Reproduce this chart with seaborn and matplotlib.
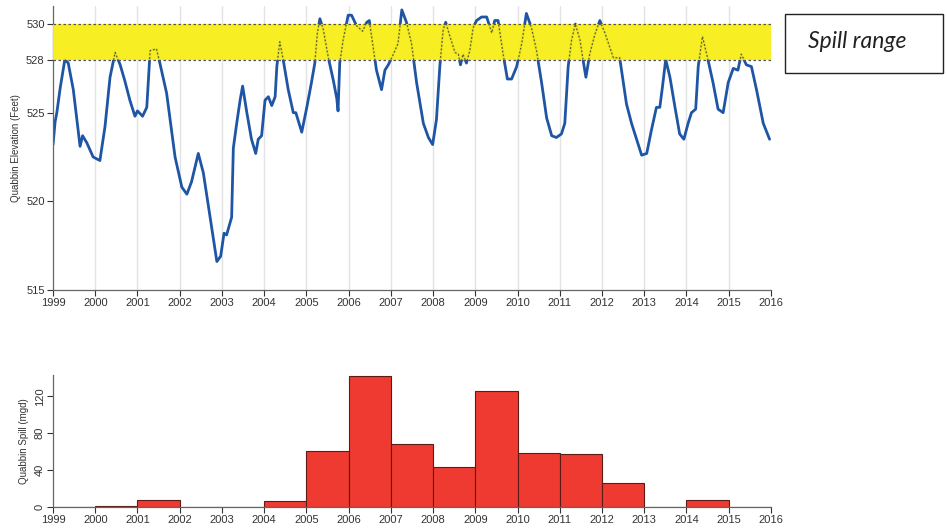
import numpy as np
import pandas as pd
import matplotlib
matplotlib.use("Agg")
import matplotlib.pyplot as plt
from matplotlib import patches
import seaborn as sns

# reservoir elevation (decimal year, feet)
elev_year = [
    1999.00, 1999.05, 1999.09, 1999.17, 1999.28, 1999.36, 1999.48, 1999.64, 1999.70, 1999.80,
    1999.95, 2000.11, 2000.23, 2000.35, 2000.47, 2000.59, 2000.70, 2000.82, 2000.94, 2001.00,
    2001.12, 2001.22, 2001.30, 2001.45, 2001.53, 2001.69, 2001.89, 2002.05, 2002.17, 2002.28,
    2002.44, 2002.56, 2002.72, 2002.88, 2002.97, 2003.05, 2003.11, 2003.23, 2003.27, 2003.35,
    2003.43, 2003.49, 2003.59, 2003.70, 2003.80, 2003.86, 2003.94, 2004.02, 2004.10, 2004.18,
    2004.26, 2004.30, 2004.37, 2004.45, 2004.57, 2004.69, 2004.75, 2004.89, 2005.01, 2005.12,
    2005.20, 2005.26, 2005.32, 2005.40, 2005.52, 2005.64, 2005.72, 2005.75, 2005.79, 2005.87,
    2005.99, 2006.07, 2006.19, 2006.33, 2006.43, 2006.49, 2006.58, 2006.66, 2006.78, 2006.86,
    2006.94, 2007.06, 2007.17, 2007.26, 2007.37, 2007.49, 2007.61, 2007.77, 2007.89, 2007.99,
    2008.08, 2008.16, 2008.24, 2008.30, 2008.40, 2008.52, 2008.60, 2008.65, 2008.71, 2008.79,
    2008.87, 2008.95, 2009.03, 2009.15, 2009.27, 2009.39, 2009.46, 2009.54, 2009.66, 2009.76,
    2009.86, 2009.98, 2010.10, 2010.21, 2010.33, 2010.45, 2010.57, 2010.69, 2010.81, 2010.92,
    2011.04, 2011.12, 2011.20, 2011.28, 2011.37, 2011.48, 2011.55, 2011.62, 2011.71, 2011.83,
    2011.95, 2012.07, 2012.27, 2012.42, 2012.50, 2012.58, 2012.70, 2012.82, 2012.94, 2013.06,
    2013.17, 2013.29, 2013.37, 2013.43, 2013.51, 2013.61, 2013.73, 2013.84, 2013.94, 2014.04,
    2014.12, 2014.22, 2014.28, 2014.38, 2014.51, 2014.63, 2014.75, 2014.87, 2014.99, 2015.11,
    2015.22, 2015.30, 2015.42, 2015.54, 2015.66, 2015.82, 2015.97,
]
elev_ft = [
    523.2, 524.5, 525.0, 526.4, 528.0, 527.8, 526.3, 523.1, 523.7, 523.3,
    522.5, 522.3, 524.2, 527.0, 528.4, 527.7, 526.8, 525.7, 524.8, 525.1,
    524.8, 525.3, 528.5, 528.6, 527.8, 526.1, 522.5, 520.8, 520.4, 521.1,
    522.7, 521.6, 519.1, 516.6, 516.9, 518.2, 518.1, 519.1, 523.0, 524.4,
    525.7, 526.5, 525.0, 523.5, 522.7, 523.5, 523.7, 525.7, 525.9, 525.4,
    525.9, 527.6, 529.0, 528.0, 526.3, 525.0, 525.0, 523.9, 525.3, 526.7,
    527.8, 529.5, 530.3, 529.7, 528.1, 526.8, 525.8, 525.1, 527.8, 529.1,
    530.5, 530.5, 529.9, 529.6, 530.1, 530.2, 528.7, 527.4, 526.3, 527.4,
    527.7, 528.3, 528.9, 530.8, 530.1, 528.9, 526.7, 524.4, 523.6, 523.2,
    524.6, 527.6, 529.7, 530.1, 529.3, 528.4, 528.3, 527.7, 528.3, 527.8,
    528.5, 529.8, 530.2, 530.4, 530.4, 529.5, 530.2, 530.2, 528.3, 526.9,
    526.9, 527.6, 528.9, 530.6, 529.8, 528.5, 526.7, 524.7, 523.7, 523.6,
    523.8, 524.4, 527.6, 529.1, 530.0, 529.1, 528.0, 527.0, 528.3, 529.4,
    530.2, 529.5, 528.1, 528.1, 526.8, 525.5, 524.4, 523.5, 522.6, 522.7,
    524.0, 525.3, 525.3, 526.4, 528.0, 527.0, 525.3, 523.8, 523.5, 524.4,
    525.0, 525.2, 527.6, 529.3, 528.0, 526.7, 525.2, 525.0, 526.7, 527.5,
    527.4, 528.3, 527.7, 527.6, 526.3, 524.4, 523.5,
]

# yearly spill (mgd)
spill_year = list(range(1999, 2016))
spill_mgd = [0.5, 1.5, 7.5, 0, 0, 7, 61, 142, 68.5, 43, 125.5, 59, 57.5, 26, 0, 7.2, 0.5]

spill_low, spill_high = 528, 530
year_ticks = list(range(1999, 2017))
elev_ticks = [515, 520, 525, 528, 530]
spill_ticks = [0, 40, 80, 120]

sns.set_style("ticks")
plt.rcParams["font.family"] = ["Liberation Sans", "DejaVu Sans"]

fig = plt.figure(figsize=(9.47, 5.29), dpi=100)
ax_top = fig.add_axes([0.056, 0.452, 0.758, 0.536])
ax_bot = fig.add_axes([0.056, 0.0416, 0.758, 0.2495])

elev = pd.DataFrame({"year": elev_year, "ft": elev_ft})
spill = pd.DataFrame({"year": spill_year, "mgd": spill_mgd})

# --- elevation panel
for yr in year_ticks[1:-1]:
    ax_top.axvline(yr, color="#e3e3e3", lw=1, zorder=0)

sns.lineplot(data=elev, x="year", y="ft", color="#1f55a5", lw=2,
             estimator=None, ax=ax_top, zorder=2)
band = ax_top.axhspan(spill_low, spill_high, color="#f8ee18", alpha=0.95,
                      lw=0, zorder=3)
sns.lineplot(data=elev, x="year", y="ft", color="#5e5d35", lw=0.9,
             linestyle=(0, (1.5, 1.5)), estimator=None, ax=ax_top, zorder=4)
ax_top.lines[-1].set_clip_path(band)
for lvl in (spill_low, spill_high):
    ax_top.axhline(lvl, color="#555555", lw=0.9, linestyle=(0, (2, 2)), zorder=5)

ax_top.set_xlim(1999, 2016)
ax_top.set_ylim(515, 531)
ax_top.set_xticks(year_ticks)
ax_top.set_yticks(elev_ticks)
ax_top.set_xlabel("")
ax_top.set_ylabel("Quabbin Elevation (Feet)", fontsize=7, color="#333333")

# --- spill panel
sns.histplot(data=spill, x="year", weights="mgd", bins=year_ticks,
             color="#ee3a30", edgecolor="#5a1c14", linewidth=0.8, alpha=1,
             ax=ax_bot)
ax_bot.set_xlim(1999, 2016)
ax_bot.set_ylim(0, 143)
ax_bot.set_xticks(year_ticks)
ax_bot.set_yticks(spill_ticks)
ax_bot.set_xlabel("")
ax_bot.set_ylabel("Quabbin Spill (mgd)", fontsize=7, color="#333333")
for lab in ax_bot.get_yticklabels():
    lab.set_rotation(90)
    lab.set_va("center")

for ax in (ax_top, ax_bot):
    sns.despine(ax=ax)
    ax.tick_params(labelsize=8, colors="#333333", length=4, width=0.8,
                   direction="out", pad=2)
    for s in ("left", "bottom"):
        ax.spines[s].set_color("#666666")
        ax.spines[s].set_linewidth(0.9)

# legend-like box
fig.add_artist(patches.Rectangle((0.829, 0.862), 0.167, 0.1115,
                                 transform=fig.transFigure, fill=False,
                                 edgecolor="#222222", lw=1))
fig.text(0.853, 0.921, "Spill range", fontsize=16.5, style="italic",
         family=["Lato", "DejaVu Sans"], color="#222222", va="center", ha="left")

fig.savefig("out.png", dpi=100)
